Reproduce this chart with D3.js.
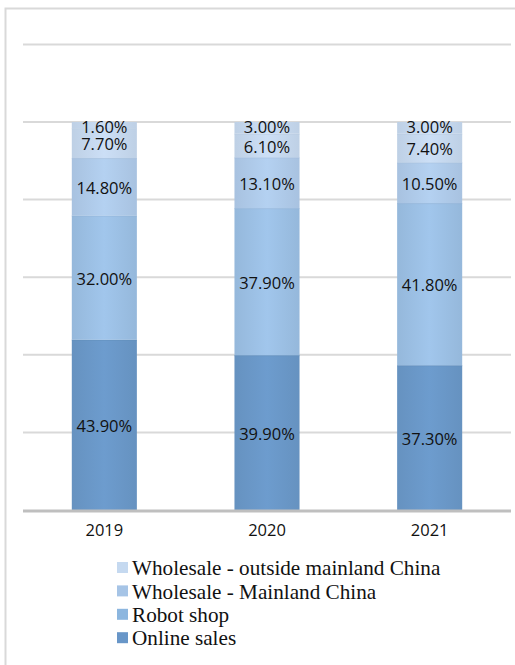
<!DOCTYPE html>
<html><head><meta charset="utf-8">
<script src="https://cdn.jsdelivr.net/npm/d3@7"></script>
<style>body{margin:0;background:#fff}svg{display:block}</style>
</head><body>
<svg id="c" width="515" height="665"></svg>
<script>
const years = ["2019", "2020", "2021"];
const seriesNames = ["Online sales", "Robot shop", "Wholesale - Mainland China", "Wholesale - outside mainland China"];
const onlineSales = [43.9, 39.9, 37.3];
const robotShop = [32.0, 37.9, 41.8];
const wholesaleMainland = [14.8, 13.1, 10.5];
const wholesaleOutside = [7.7, 6.1, 7.4];
const wholesaleOutsideTop = [1.6, 3.0, 3.0];
// top label pairs: in the picture the top segment carries two labels
const seriesValues = [onlineSales, robotShop, wholesaleMainland, wholesaleOutside, wholesaleOutsideTop];
const yTicks = [0, 20, 40, 60, 80, 100, 120];
const colors = ["#6a98c8", "#9cc0e5", "#afcbea", "#c6d9ef", "#c6d9ef"];
const legendColors = ["#6896c8", "#8cb6df", "#a6c4e6", "#c5d9f0"];

const svg = d3.select("#c");
const x = d3.scaleBand().domain(years).range([23, 511]).paddingInner(0.6).paddingOuter(0.3);
const y = d3.scaleLinear().domain([0, 120]).range([510, 44.4]);

// outer frame
svg.append("path").attr("d", "M5.5,665 V8.5 H515").attr("fill", "none").attr("stroke", "#d9d9d9").attr("stroke-width", 2);

// gridlines
svg.append("g").selectAll("line").data(yTicks.filter(d => d > 0)).join("line")
  .attr("x1", 23).attr("x2", 511).attr("y1", d => y(d)).attr("y2", d => y(d))
  .attr("stroke", "#d9d9d9").attr("stroke-width", 2);

// gradients
const defs = svg.append("defs");
colors.forEach((c, i) => {
  const g = defs.append("linearGradient").attr("id", "g" + i).attr("x1", 0).attr("x2", 1).attr("y1", 0).attr("y2", 0);
  const dk = d3.color(c).darker(0.12), lt = d3.color(c).brighter(0.08);
  g.append("stop").attr("offset", "0%").attr("stop-color", dk);
  g.append("stop").attr("offset", "50%").attr("stop-color", lt);
  g.append("stop").attr("offset", "100%").attr("stop-color", dk);
});

const stackData = years.map((yr, j) => {
  const o = { year: yr };
  seriesValues.forEach((s, i) => o["s" + i] = s[j]);
  return o;
});
const stack = d3.stack().keys(seriesValues.map((_, i) => "s" + i))(stackData);

const bw = x.bandwidth();
stack.forEach((layer, i) => {
  svg.append("g").selectAll("rect").data(layer).join("rect")
    .attr("x", d => x(d.data.year)).attr("width", bw)
    .attr("y", d => y(d[1])).attr("height", d => y(d[0]) - y(d[1]))
    .attr("fill", `url(#g${i})`);
  svg.append("g").selectAll("line").data(layer).join("line")
    .attr("x1", d => x(d.data.year)).attr("x2", d => x(d.data.year) + bw)
    .attr("y1", d => y(d[1]) + 0.5).attr("y2", d => y(d[1]) + 0.5)
    .attr("stroke", d3.color(colors[i]).darker(0.2)).attr("stroke-opacity", i === 4 ? 0 : 0.6);
});

// labels
stack.forEach((layer, i) => {
  svg.append("g").selectAll("text").data(layer).join("text")
    .attr("x", d => x(d.data.year) + bw / 2)
    .attr("y", d => {
      let cy = (y(d[0]) + y(d[1])) / 2 + 1.5;
      if (i === 4) cy = y(d[1]) + 5.5;
      return cy;
    })
    .attr("dy", "0.35em").attr("text-anchor", "middle")
    .attr("font-family", "Open Sans, sans-serif").attr("font-size", 16.5).attr("fill", "#111")
    .text(d => (d[1] - d[0]).toFixed(2) + "%");
});

// baseline
svg.append("line").attr("x1", 23).attr("x2", 511).attr("y1", 511).attr("y2", 511)
  .attr("stroke", "#bfbfbf").attr("stroke-width", 3);

// x axis labels
const xa = svg.append("g").attr("transform", "translate(0,512)")
  .call(d3.axisBottom(x).tickSize(0).tickPadding(12));
xa.select(".domain").remove();
xa.selectAll("text").attr("font-family", "Open Sans, sans-serif").attr("font-size", 16.5).attr("fill", "#111");

// legend
const legendNames = seriesNames.slice().reverse();
const lg = svg.append("g").selectAll("g").data(legendNames).join("g")
  .attr("transform", (d, i) => `translate(117,${562 + i * 23.4})`);
lg.append("rect").attr("width", 11).attr("height", 11)
  .attr("fill", (d, i) => legendColors[3 - i]);
lg.append("text").attr("x", 15).attr("y", 5.5).attr("dy", "0.36em")
  .attr("font-family", "Liberation Serif, Times New Roman, serif").attr("font-size", 21.2).attr("fill", "#111")
  .text(d => d);
</script>
</body></html>
